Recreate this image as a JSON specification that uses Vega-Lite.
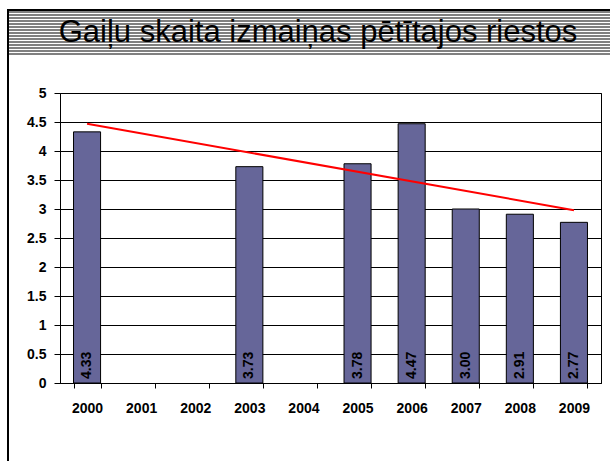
{
  "$schema": "https://vega.github.io/schema/vega-lite/v6.json",
  "padding": {"left": 7, "top": 9, "right": 0, "bottom": 0},
  "background": "white",
  "spacing": 0,
  "config": {"font": "Liberation Sans"},
  "datasets": {
    "header": [{"title": "Gaiļu skaita izmaiņas pētītajos riestos"}],
    "counts": [
      {"year": "2000", "value": 4.33},
      {"year": "2001", "value": null},
      {"year": "2002", "value": null},
      {"year": "2003", "value": 3.73},
      {"year": "2004", "value": null},
      {"year": "2005", "value": 3.78},
      {"year": "2006", "value": 4.47},
      {"year": "2007", "value": 3.00},
      {"year": "2008", "value": 2.91},
      {"year": "2009", "value": 2.77}
    ],
    "trend": [
      {"year": "2000", "trend": 4.47},
      {"year": "2009", "trend": 2.98}
    ]
  },
  "vconcat": [
    {
      "width": 622,
      "height": 46,
      "view": {"stroke": null},
      "data": {"name": "header"},
      "layer": [
        {
          "mark": {
            "type": "rect",
            "fill": {
              "gradient": "linear", "x1": 0, "y1": 0, "x2": 0, "y2": 1,
              "stops": [
                {"offset": 0, "color": "#000000"}, {"offset": 0.04348, "color": "#000000"},
                {"offset": 0.04348, "color": "#808080"}, {"offset": 0.08696, "color": "#808080"},
                {"offset": 0.08696, "color": "#ffffff"}, {"offset": 0.1087, "color": "#ffffff"},
                {"offset": 0.1087, "color": "#808080"}, {"offset": 0.15217, "color": "#808080"},
                {"offset": 0.15217, "color": "#ffffff"}, {"offset": 0.17391, "color": "#ffffff"},
                {"offset": 0.17391, "color": "#808080"}, {"offset": 0.21739, "color": "#808080"},
                {"offset": 0.21739, "color": "#ffffff"}, {"offset": 0.23913, "color": "#ffffff"},
                {"offset": 0.23913, "color": "#808080"}, {"offset": 0.28261, "color": "#808080"},
                {"offset": 0.28261, "color": "#ffffff"}, {"offset": 0.30435, "color": "#ffffff"},
                {"offset": 0.30435, "color": "#808080"}, {"offset": 0.34783, "color": "#808080"},
                {"offset": 0.34783, "color": "#ffffff"}, {"offset": 0.36957, "color": "#ffffff"},
                {"offset": 0.36957, "color": "#808080"}, {"offset": 0.41304, "color": "#808080"},
                {"offset": 0.41304, "color": "#ffffff"}, {"offset": 0.43478, "color": "#ffffff"},
                {"offset": 0.43478, "color": "#808080"}, {"offset": 0.47826, "color": "#808080"},
                {"offset": 0.47826, "color": "#ffffff"}, {"offset": 0.5, "color": "#ffffff"},
                {"offset": 0.5, "color": "#808080"}, {"offset": 0.54348, "color": "#808080"},
                {"offset": 0.54348, "color": "#ffffff"}, {"offset": 0.56522, "color": "#ffffff"},
                {"offset": 0.56522, "color": "#808080"}, {"offset": 0.6087, "color": "#808080"},
                {"offset": 0.6087, "color": "#ffffff"}, {"offset": 0.63043, "color": "#ffffff"},
                {"offset": 0.63043, "color": "#808080"}, {"offset": 0.67391, "color": "#808080"},
                {"offset": 0.67391, "color": "#ffffff"}, {"offset": 0.69565, "color": "#ffffff"},
                {"offset": 0.69565, "color": "#808080"}, {"offset": 0.73913, "color": "#808080"},
                {"offset": 0.73913, "color": "#ffffff"}, {"offset": 0.76087, "color": "#ffffff"},
                {"offset": 0.76087, "color": "#808080"}, {"offset": 0.80435, "color": "#808080"},
                {"offset": 0.80435, "color": "#ffffff"}, {"offset": 0.82609, "color": "#ffffff"},
                {"offset": 0.82609, "color": "#808080"}, {"offset": 0.86957, "color": "#808080"},
                {"offset": 0.86957, "color": "#ffffff"}, {"offset": 0.8913, "color": "#ffffff"},
                {"offset": 0.8913, "color": "#808080"}, {"offset": 0.93478, "color": "#808080"},
                {"offset": 0.93478, "color": "#ffffff"}, {"offset": 0.95652, "color": "#ffffff"},
                {"offset": 0.95652, "color": "#808080"}, {"offset": 1, "color": "#808080"}
              ]
            }
          },
          "encoding": {
            "x": {"value": 0}, "x2": {"value": "width"},
            "y": {"value": 0}, "y2": {"value": "height"}
          }
        },
        {
          "mark": {
            "type": "rect",
            "fill": {
              "gradient": "linear", "x1": 0, "y1": 0, "x2": 1, "y2": 0,
              "stops": [
                {"offset": 0, "color": "#000000"}, {"offset": 0.0032, "color": "#000000"},
                {"offset": 0.0032, "color": "rgba(0,0,0,0)"}, {"offset": 1, "color": "rgba(0,0,0,0)"}
              ]
            }
          },
          "encoding": {
            "x": {"value": 0}, "x2": {"value": "width"},
            "y": {"value": 0}, "y2": {"value": "height"}
          }
        },
        {
          "mark": {"type": "text", "font": "Liberation Sans", "fontSize": 31, "color": "#000000", "dy": 1},
          "encoding": {"text": {"field": "title"}}
        }
      ]
    },
    {
      "spacing": 17,
      "hconcat": [
        {
          "width": 2,
          "height": 410,
          "view": {"stroke": null},
          "data": {"name": "header"},
          "mark": {"type": "rect", "color": "#000000"},
          "encoding": {
            "x": {"value": 0}, "x2": {"value": "width"},
            "y": {"value": 0}, "y2": {"value": "height"}
          }
        },
        {
          "spacing": 0,
          "vconcat": [
            {
              "width": 541,
              "height": 30,
              "view": {"stroke": null},
              "data": {"name": "header"},
              "mark": {"type": "rect", "opacity": 0},
              "encoding": {
                "x": {"value": 0}, "x2": {"value": "width"},
                "y": {"value": 0}, "y2": {"value": "height"}
              }
            },
            {
              "width": 541,
              "height": 290,
              "view": {"stroke": "#000000", "strokeWidth": 1},
              "layer": [
                {
                  "data": {"name": "counts"},
                  "mark": {"type": "bar", "color": "#666699", "stroke": "#000000", "strokeWidth": 1},
                  "encoding": {
                    "x": {
                      "field": "year", "type": "ordinal",
                      "scale": {"domain": ["2000", "2001", "2002", "2003", "2004", "2005", "2006", "2007", "2008", "2009"], "paddingInner": 0.5, "paddingOuter": 0.25},
                      "axis": {
                        "title": null, "labelAngle": 0, "labelFont": "Liberation Sans", "labelFontSize": 14,
                        "labelFontWeight": "bold", "labelColor": "#000000", "labelPadding": 13,
                        "tickBand": "extent", "tickColor": "#000000", "tickSize": 5,
                        "domainColor": "#000000", "grid": false
                      }
                    },
                    "y": {
                      "field": "value", "type": "quantitative",
                      "scale": {"domain": [0, 5]},
                      "axis": {
                        "title": null,
                        "values": [0, 0.5, 1, 1.5, 2, 2.5, 3, 3.5, 4, 4.5, 5], "format": "~g", "labelOverlap": false,
                        "labelFont": "Liberation Sans", "labelFontSize": 14, "labelFontWeight": "bold",
                        "labelColor": "#000000", "labelPadding": 8, "tickColor": "#000000", "tickSize": 6,
                        "domainColor": "#000000", "grid": true, "gridColor": "#000000", "gridOpacity": 1
                      }
                    }
                  }
                },
                {
                  "data": {"name": "counts"},
                  "transform": [{"filter": "isValid(datum.value)"}],
                  "mark": {"type": "text", "angle": 270, "align": "left", "baseline": "middle", "dx": 4, "font": "Liberation Sans", "fontSize": 14, "fontWeight": "bold", "color": "#000000"},
                  "encoding": {
                    "x": {
                      "field": "year", "type": "ordinal",
                      "scale": {"domain": ["2000", "2001", "2002", "2003", "2004", "2005", "2006", "2007", "2008", "2009"], "paddingInner": 0.5, "paddingOuter": 0.25},
                      "axis": {
                        "title": null, "labelAngle": 0, "labelFont": "Liberation Sans", "labelFontSize": 14,
                        "labelFontWeight": "bold", "labelColor": "#000000", "labelPadding": 13,
                        "tickBand": "extent", "tickColor": "#000000", "tickSize": 5,
                        "domainColor": "#000000", "grid": false
                      }
                    },
                    "y": {
                      "datum": 0, "type": "quantitative",
                      "scale": {"domain": [0, 5]},
                      "axis": {
                        "title": null,
                        "values": [0, 0.5, 1, 1.5, 2, 2.5, 3, 3.5, 4, 4.5, 5], "format": "~g", "labelOverlap": false,
                        "labelFont": "Liberation Sans", "labelFontSize": 14, "labelFontWeight": "bold",
                        "labelColor": "#000000", "labelPadding": 8, "tickColor": "#000000", "tickSize": 6,
                        "domainColor": "#000000", "grid": true, "gridColor": "#000000", "gridOpacity": 1
                      }
                    },
                    "text": {"field": "value", "type": "quantitative", "format": ".2f"}
                  }
                },
                {
                  "data": {"name": "trend"},
                  "mark": {"type": "line", "color": "#ff0000", "strokeWidth": 2},
                  "encoding": {
                    "x": {
                      "field": "year", "type": "ordinal",
                      "scale": {"domain": ["2000", "2001", "2002", "2003", "2004", "2005", "2006", "2007", "2008", "2009"], "paddingInner": 0.5, "paddingOuter": 0.25},
                      "axis": {
                        "title": null, "labelAngle": 0, "labelFont": "Liberation Sans", "labelFontSize": 14,
                        "labelFontWeight": "bold", "labelColor": "#000000", "labelPadding": 13,
                        "tickBand": "extent", "tickColor": "#000000", "tickSize": 5,
                        "domainColor": "#000000", "grid": false
                      }
                    },
                    "y": {
                      "field": "trend", "type": "quantitative",
                      "scale": {"domain": [0, 5]},
                      "axis": {
                        "title": null,
                        "values": [0, 0.5, 1, 1.5, 2, 2.5, 3, 3.5, 4, 4.5, 5], "format": "~g", "labelOverlap": false,
                        "labelFont": "Liberation Sans", "labelFontSize": 14, "labelFontWeight": "bold",
                        "labelColor": "#000000", "labelPadding": 8, "tickColor": "#000000", "tickSize": 6,
                        "domainColor": "#000000", "grid": true, "gridColor": "#000000", "gridOpacity": 1
                      }
                    }
                  }
                }
              ]
            }
          ]
        }
      ]
    }
  ]
}
